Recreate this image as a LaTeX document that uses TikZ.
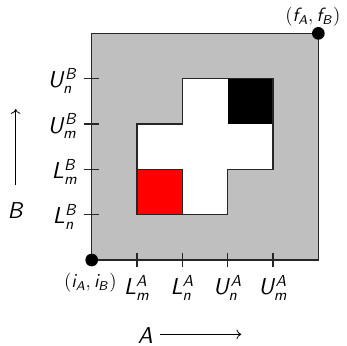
\documentclass[tikz,border=0pt]{standalone}
\usepackage{amsmath}
\DeclareMathAlphabet{\msf}{OT1}{cmss}{m}{sl}
\usetikzlibrary{arrows.meta}
\newcommand{\lab}[3]{$\msf{#1}^{\msf{#2}}_{\msf{#3}}$}
\begin{document}
\begin{tikzpicture}[x=1cm,y=1cm,
  edge/.style={draw=black!85,line width=0.9pt},
  tick/.style={draw=black!85,line width=0.9pt},
  tlab/.style={font=\fontsize{14.5}{16}\selectfont,inner sep=0pt},
  plab/.style={font=\fontsize{12}{14}\selectfont,inner sep=0pt},
  dot/.style={circle,fill=black,inner sep=0pt,minimum size=0.28cm}]
\useasboundingbox (-2.023,-1.875) rectangle (5.632,5.736);
% gray square
\fill[black!25] (0,0) rectangle (5,5);
% white cross
\fill[white] (1,1) -- (3,1) -- (3,2) -- (4,2) -- (4,4) -- (2,4) -- (2,3) -- (1,3) -- cycle;
\fill[red] (1,1) rectangle (2,2);
\fill[black] (3,3) rectangle (4,4);
\draw[edge] (1,1) -- (3,1) -- (3,2) -- (4,2) -- (4,4) -- (2,4) -- (2,3) -- (1,3) -- cycle;
\draw[edge] (1,2) -- (2,2) -- (2,1);
\draw[edge] (0,0) rectangle (5,5);
% ticks
\foreach \i in {1,2,3,4} {
  \draw[tick] (\i,-0.16) -- (\i,0.16);
  \draw[tick] (-0.17,\i) -- (0.17,\i);
}
% corner points
\node[dot] (start) at (0,0) {};
\node[dot] (finish) at (5,5) {};
\node[plab] (startlab) at (-0.03,-0.5) {$(\msf{i}_{\msf{A}},\msf{i}_{\msf{B}})$};
\node[plab] (finishlab) at (4.88,5.36) {$(\msf{f}_{\msf{A}},\msf{f}_{\msf{B}})$};
% x labels
\node[tlab] (lmA) at (1,-0.62) {\lab{L}{A}{m}};
\node[tlab] (lnA) at (2,-0.62) {\lab{L}{A}{n}};
\node[tlab] (unA) at (3,-0.62) {\lab{U}{A}{n}};
\node[tlab] (umA) at (4,-0.62) {\lab{U}{A}{m}};
% y labels
\node[tlab,anchor=east] (lnB) at (-0.3,0.95) {\lab{L}{B}{n}};
\node[tlab,anchor=east] (lmB) at (-0.3,1.95) {\lab{L}{B}{m}};
\node[tlab,anchor=east] (umB) at (-0.3,2.95) {\lab{U}{B}{m}};
\node[tlab,anchor=east] (unB) at (-0.3,3.95) {\lab{U}{B}{n}};
% axis names and arrows
\node[tlab] (Alab) at (1.18,-1.67) {$\msf{A}$};
\coordinate (ax1) at (1.5,-1.64);
\coordinate (ax2) at (3.3,-1.64);
\draw[line width=0.5pt,-{To[length=3pt,width=6pt]}] (ax1) -- (ax2);
\node[tlab] (Blab) at (-1.67,1.1) {$\msf{B}$};
\coordinate (ay1) at (-1.677,1.65);
\coordinate (ay2) at (-1.677,3.33);
\draw[line width=0.5pt,-{To[length=3pt,width=6pt]}] (ay1) -- (ay2);
\end{tikzpicture}
\end{document}
